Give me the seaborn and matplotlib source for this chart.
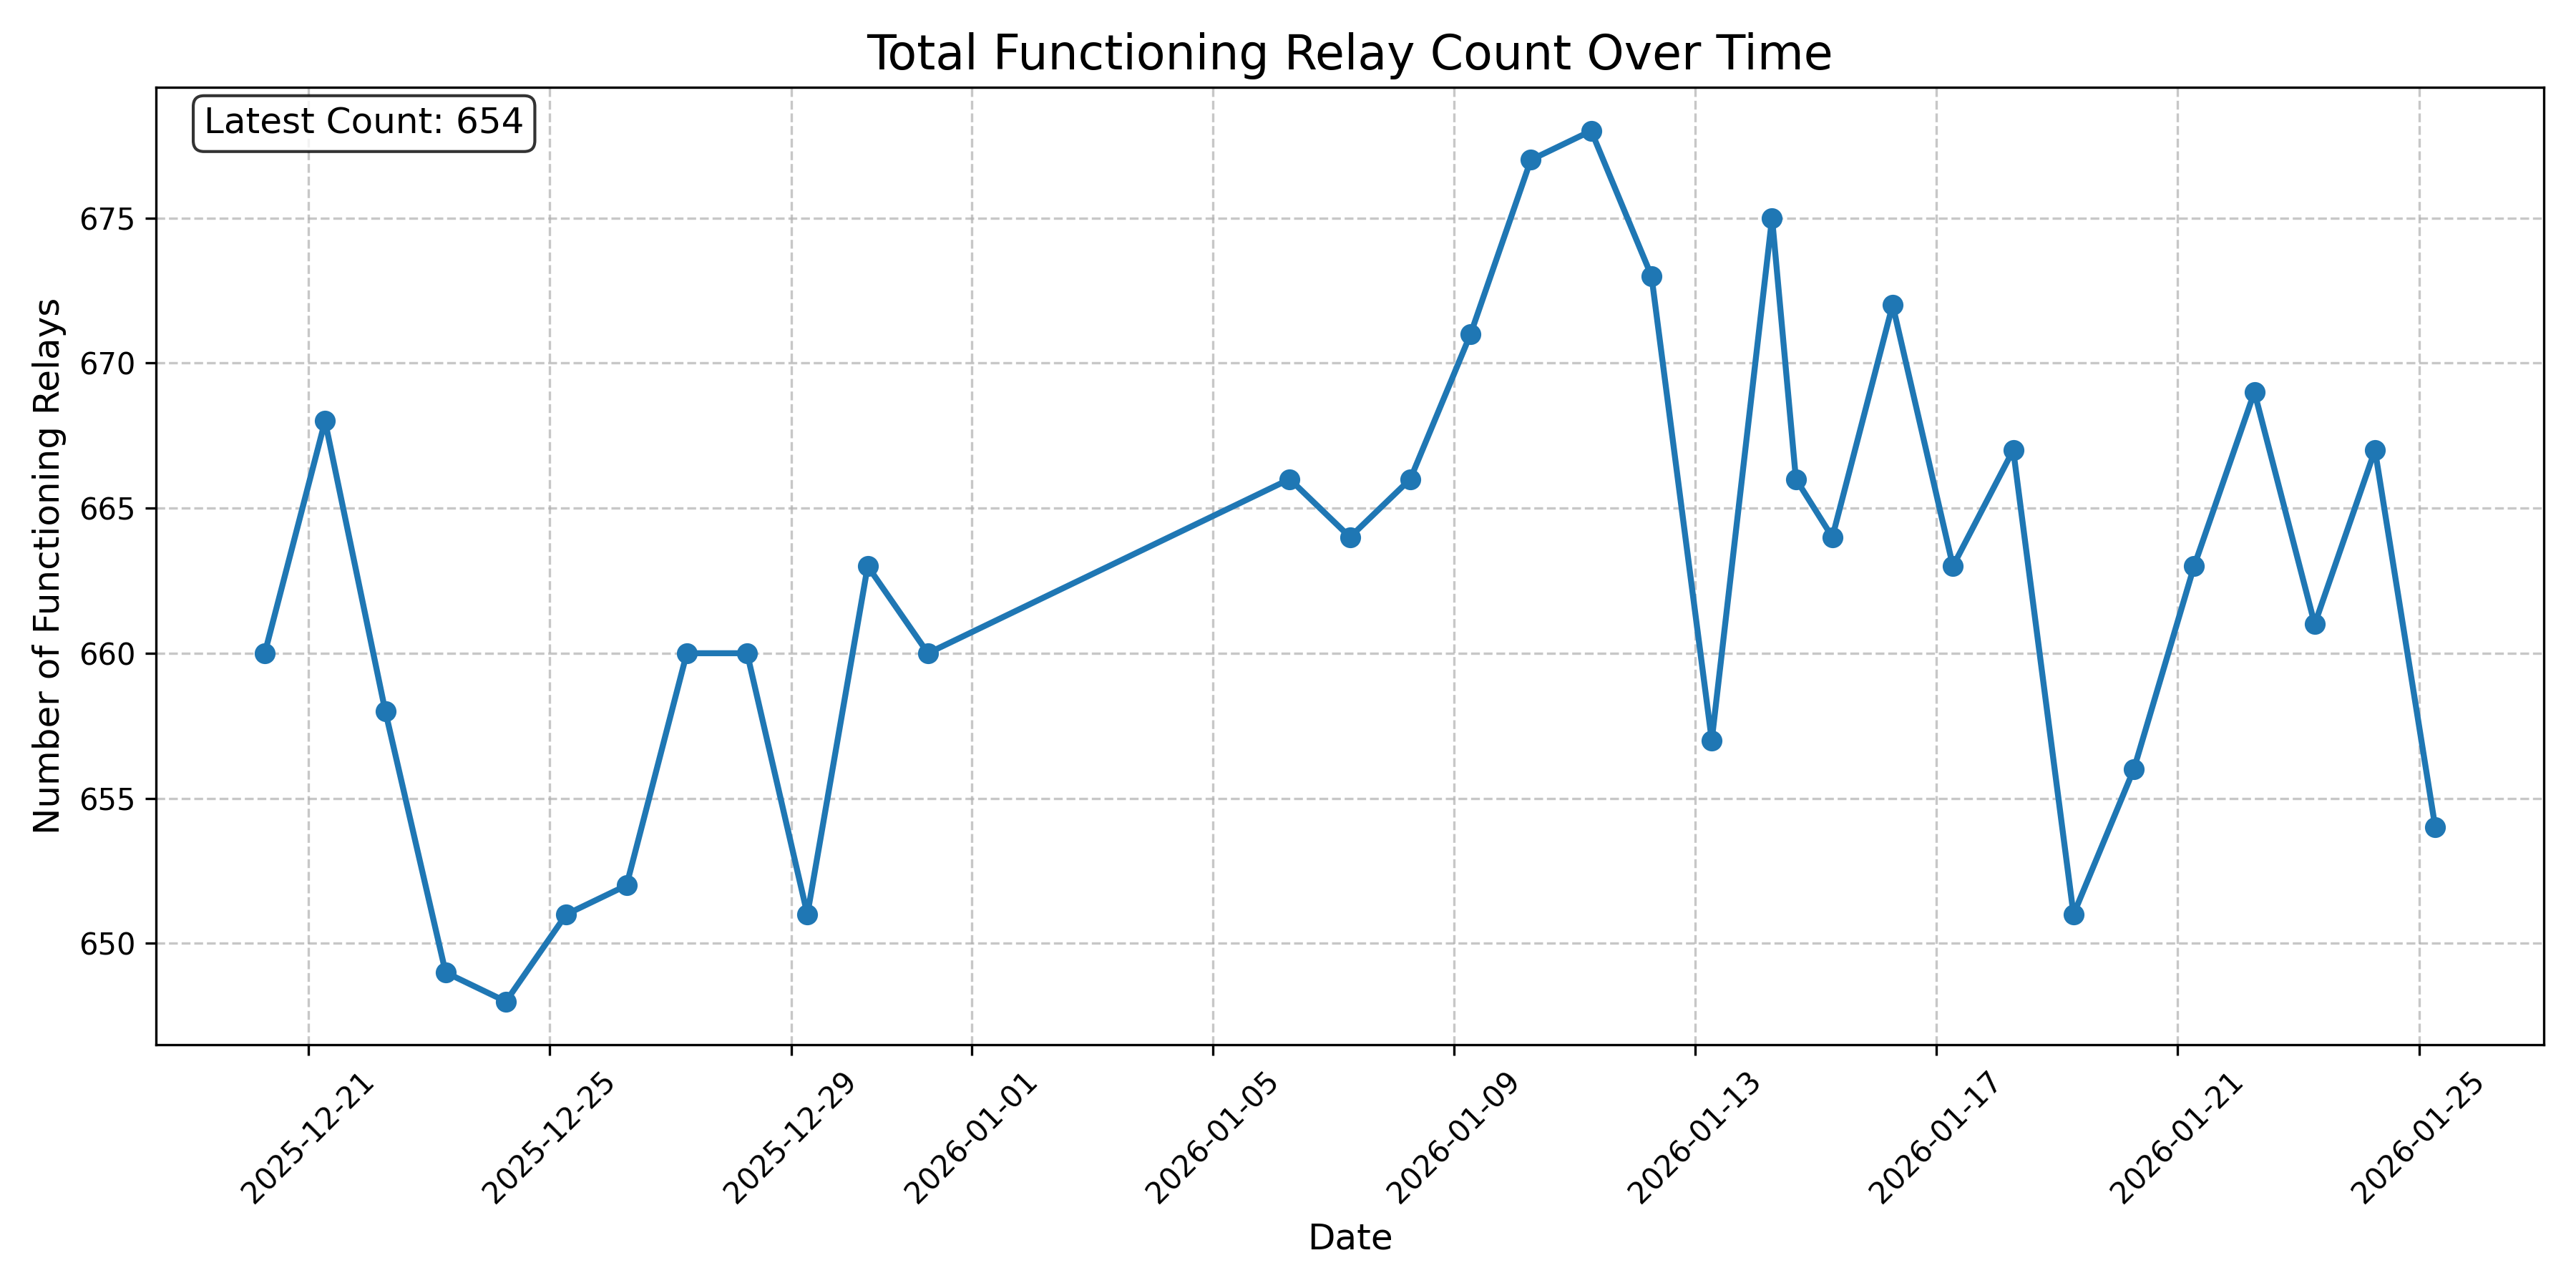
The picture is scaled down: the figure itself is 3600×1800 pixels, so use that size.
import pandas as pd
import numpy as np
import matplotlib
matplotlib.use('Agg')
import matplotlib.pyplot as plt
import matplotlib.dates as mdates
import seaborn as sns

# timestamps of each snapshot
fechas = ['2025-12-20 06:30', '2025-12-21 06:30', '2025-12-22 06:30', '2025-12-23 06:30',
          '2025-12-24 06:30', '2025-12-25 06:30', '2025-12-26 06:30', '2025-12-27 06:30',
          '2025-12-28 06:30', '2025-12-29 06:30', '2025-12-30 06:30', '2025-12-31 06:30',
          '2026-01-06 06:30', '2026-01-07 06:30', '2026-01-08 06:30', '2026-01-09 06:30',
          '2026-01-10 06:30', '2026-01-11 06:30', '2026-01-12 06:30', '2026-01-13 06:30',
          '2026-01-14 06:30', '2026-01-14 16:00', '2026-01-15 06:30', '2026-01-16 06:30',
          '2026-01-17 06:30', '2026-01-18 06:30', '2026-01-19 06:30', '2026-01-20 06:30',
          '2026-01-21 06:30', '2026-01-22 06:30', '2026-01-23 06:30', '2026-01-24 06:30',
          '2026-01-25 06:30']
relays = [660, 668, 658, 649, 648, 651, 652, 660, 660, 651, 663, 660,
          666, 664, 666, 671, 677, 678, 673, 657, 675, 666, 664, 672,
          663, 667, 651, 656, 663, 669, 661, 667, 654]

df = pd.DataFrame({'fecha': pd.to_datetime(fechas), 'relays': relays})

fig, ax = plt.subplots(figsize=(12, 6), dpi=300)
sns.lineplot(data=df, x='fecha', y='relays', marker='o', linewidth=2,
             markersize=6, markeredgewidth=1, markeredgecolor='#1f77b4',
             color='#1f77b4', ax=ax)
ax.set_title('Total Functioning Relay Count Over Time', fontsize=16)
ax.set_xlabel('Date', fontsize=12)
ax.set_ylabel('Number of Functioning Relays', fontsize=12)
ax.grid(True, linestyle='--', alpha=0.7)
ax.xaxis.set_major_locator(mdates.DayLocator(bymonthday=[1, 5, 9, 13, 17, 21, 25, 29]))
ax.xaxis.set_major_formatter(mdates.DateFormatter('%Y-%m-%d'))
plt.setp(ax.get_xticklabels(), rotation=45)
ax.text(0.02, 0.98, 'Latest Count: %d' % relays[-1], transform=ax.transAxes,
        fontsize=12, va='top',
        bbox=dict(boxstyle='round', facecolor='white', alpha=0.8))
plt.tight_layout()
plt.savefig('out.png', dpi=300)
